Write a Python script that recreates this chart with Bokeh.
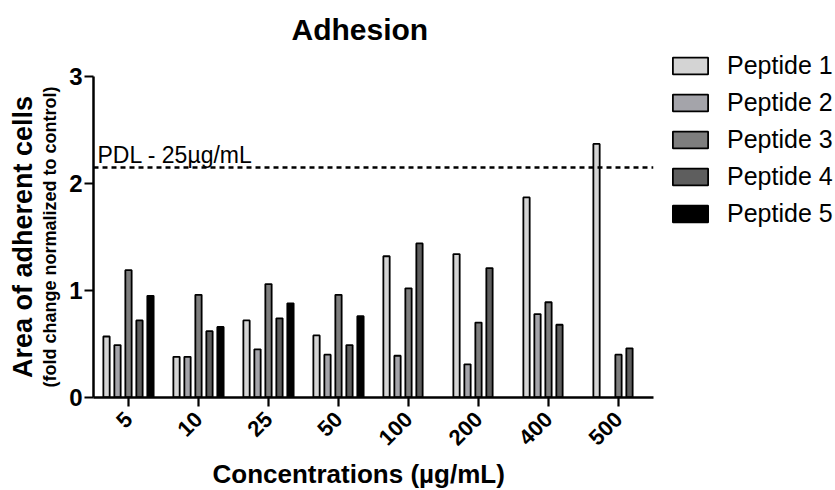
import math
from bokeh.plotting import figure
from bokeh.models import (ColumnDataSource, FactorRange, Range1d, Span, Label,
                          Legend, LegendItem, FixedTicker, Title)
from bokeh.transform import dodge
from bokeh.embed import file_html
from bokeh.resources import INLINE

nan = float("nan")

concentrations = ["5", "10", "25", "50", "100", "200", "400", "500"]
peptide_1 = [0.57, 0.38, 0.72, 0.58, 1.32, 1.34, 1.87, 2.37]
peptide_2 = [0.49, 0.38, 0.45, 0.40, 0.39, 0.31, 0.78, nan]
peptide_3 = [1.19, 0.96, 1.06, 0.96, 1.02, 0.70, 0.89, 0.40]
peptide_4 = [0.72, 0.62, 0.74, 0.49, 1.44, 1.21, 0.68, 0.46]
peptide_5 = [0.95, 0.66, 0.88, 0.76, nan, nan, nan, nan]
series_names = ["Peptide 1", "Peptide 2", "Peptide 3", "Peptide 4", "Peptide 5"]
series_colors = ["#d4d4d4", "#a4a4aa", "#7e7e7e", "#5e5e5e", "#000000"]
y_ticks = [0, 1, 2, 3]
pdl_level = 2.15
pdl_text = "PDL - 25µg/mL"

FONT = "Liberation Sans"

source = ColumnDataSource(dict(
    conc=concentrations,
    p1=peptide_1, p2=peptide_2, p3=peptide_3, p4=peptide_4, p5=peptide_5,
))

p = figure(
    x_range=FactorRange(*concentrations, range_padding=0),
    y_range=Range1d(0, 3),
    frame_width=560, frame_height=321,
    output_backend="svg", toolbar_location=None,
    min_border_left=93, min_border_right=182,
    min_border_top=76, min_border_bottom=93,
)
p.outline_line_color = None
p.xgrid.visible = False
p.ygrid.visible = False
p.background_fill_color = "white"
p.border_fill_color = "white"

# chart title (outer panel)
p.title.text = "Adhesion"
p.title.text_font = FONT
p.title.text_font_style = "bold"
p.title.text_font_size = "30px"
p.title.text_color = "black"
p.title.align = "left"
p.title.offset = 198
p.title.vertical_align = "top"
p.title.standoff = 0

# inner spacer panel between the title and the frame
p.add_layout(Title(text=" ", text_font_size="1px", standoff=26), "above")

offsets = [-0.314, -0.157, 0.0, 0.157, 0.314]
cols = ["p1", "p2", "p3", "p4", "p5"]
renderers = []
for col, off, color in zip(cols, offsets, series_colors):
    r = p.vbar(x=dodge("conc", off, range=p.x_range), top=col, width=0.09,
               source=source, fill_color=color, line_color="black",
               line_width=1.8)
    renderers.append(r)

# PDL reference line
p.add_layout(Span(location=pdl_level, dimension="width", line_color="black",
                  line_width=2.5, line_dash="5 4"))
p.add_layout(Label(x=4, y=pdl_level, x_units="screen", y_units="data",
                   y_offset=-1, text=pdl_text, text_font=FONT,
                   text_font_size="23px", text_color="black",
                   text_baseline="bottom", text_align="left"))

# axes
for ax in (p.xaxis[0], p.yaxis[0]):
    ax.axis_line_width = 2.5
    ax.axis_line_color = "black"
    ax.major_tick_line_width = 2.2
    ax.major_tick_line_color = "black"
    ax.major_tick_out = 9
    ax.major_tick_in = 0
    ax.minor_tick_line_color = None
    ax.major_label_text_font = FONT
    ax.major_label_text_font_style = "bold"
    ax.major_label_text_color = "black"

p.yaxis.ticker = FixedTicker(ticks=y_ticks)
p.yaxis.major_label_text_font_size = "24px"
p.yaxis.major_label_standoff = 2
p.yaxis.axis_label = "(fold change normalized to control)"
p.yaxis.axis_label_text_font = FONT
p.yaxis.axis_label_text_font_style = "bold"
p.yaxis.axis_label_text_font_size = "18px"
p.yaxis.axis_label_text_color = "black"
p.yaxis.axis_label_standoff = 6

p.xaxis.major_label_orientation = math.pi / 4
p.xaxis.major_label_text_font_size = "22px"
p.xaxis.major_label_standoff = 9

# outer y title
p.add_layout(Title(text="Area of adherent cells", text_font=FONT,
                   text_font_style="bold", text_font_size="27px",
                   text_color="black", align="center", standoff=0), "left")
# x title
p.add_layout(Title(text="Concentrations (µg/mL)", text_font=FONT,
                   text_font_style="bold", text_font_size="26px",
                   text_color="black", align="left", offset=119,
                   standoff=2), "below")

legend = Legend(
    items=[LegendItem(label=n, renderers=[r]) for n, r in zip(series_names, renderers)],
    location=(15, 169),
    glyph_width=44, glyph_height=21,
    label_text_font=FONT, label_text_font_size="25px", label_text_color="black",
    label_standoff=15, spacing=8, padding=0, margin=0,
    border_line_color=None, background_fill_alpha=0,
)
p.add_layout(legend, "right")

open("out.html", "w").write(file_html(p, INLINE))
